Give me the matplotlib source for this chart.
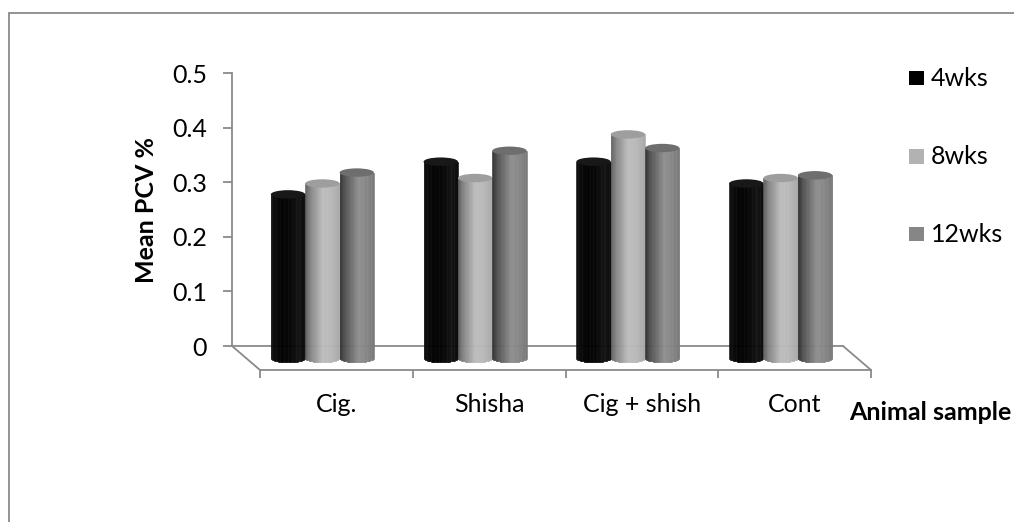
import numpy as np
import matplotlib
matplotlib.use("Agg")
import matplotlib.pyplot as plt
from matplotlib.transforms import ScaledTranslation, IdentityTransform
from matplotlib.patches import Ellipse, Rectangle
from matplotlib.collections import PolyCollection
from matplotlib.lines import Line2D
from matplotlib.markers import TICKDOWN

plt.rcParams['font.family'] = ['Lato', 'DejaVu Sans']

# ---- data -------------------------------------------------------------
categories = ["Cig.", "Shisha", "Cig + shish", "Cont"]
series = ["4wks", "8wks", "12wks"]
wk4 = [0.30, 0.36, 0.36, 0.32]
wk8 = [0.32, 0.33, 0.41, 0.33]
wk12 = [0.34, 0.38, 0.385, 0.335]
yticks = [0, 0.1, 0.2, 0.3, 0.4, 0.5]
ytick_labels = ["0", "0.1", "0.2", "0.3", "0.4", "0.5"]
ylabel = "Mean PCV %"
xlabel = "Animal sample"

values = [wk4, wk8, wk12]

# ---- styling ----------------------------------------------------------
W, H, DPI = 1014, 522, 100
axis_grey = "#8a8a8a"
legend_cols = ["#000000", "#b2b2b2", "#868686"]
cap_cols = ["#181818", "#9e9e9e", "#6e6e6e"]
# horizontal shading of each cylinder: (position, grey level)
shades = [
    ([0.0, 0.3, 0.6, 0.8, 1.0], [0.05, 0.0, 0.02, 0.07, 0.03]),
    ([0.0, 0.15, 0.5, 0.7, 1.0], [0.36, 0.52, 0.74, 0.73, 0.66]),
    ([0.0, 0.15, 0.55, 0.8, 1.0], [0.18, 0.32, 0.56, 0.52, 0.47]),
]
depth_dx, depth_dy = 28, 24      # floor depth in pixels
bar_w = 0.225                    # bar width in category units
cap_half = 4.2                   # half height of the cap ellipse, px
fs = 18

fig = plt.figure(figsize=(W / DPI, H / DPI), dpi=DPI)
ax = fig.add_axes([232 / W, (H - 346) / H, (843 - 232) / W, (346 - 73.3) / H])
ax.set_xlim(0, len(categories))
ax.set_ylim(0, 0.5)
for s in ["top", "right", "bottom"]:
    ax.spines[s].set_visible(False)
ax.spines["left"].set_color(axis_grey)
ax.spines["left"].set_linewidth(1.3)
ax.set_xticks([])
ax.set_yticks(yticks)
ax.set_yticklabels(ytick_labels)
ax.tick_params(axis="y", length=6.5, width=1.3, color=axis_grey,
               pad=11.5, labelsize=fs)
ax.patch.set_visible(False)


def depth_tr(frac):
    return ax.transData + ScaledTranslation(frac * depth_dx / DPI,
                                            -frac * depth_dy / DPI,
                                            fig.dpi_scale_trans)


# ---- floor ------------------------------------------------------------
n = len(categories)
fl_kw = dict(color=axis_grey, lw=1.3, clip_on=False, zorder=1)
ax.plot([0, n], [0, 0], transform=depth_tr(0), **fl_kw)
ax.plot([0, n], [0, 0], transform=depth_tr(1), **fl_kw)
for xe in (0, n):
    p0 = depth_tr(0).transform((xe, 0))
    p1 = depth_tr(1).transform((xe, 0))
    ax.add_line(Line2D([p0[0], p1[0]], [p0[1], p1[1]],
                       transform=IdentityTransform(), **fl_kw))
ax.plot(np.arange(n + 1), np.zeros(n + 1), ls="none", marker=TICKDOWN,
        markersize=5.5, markeredgewidth=1.3, color=axis_grey,
        transform=depth_tr(1), clip_on=False, zorder=1)

# ---- cylinders --------------------------------------------------------
Tb = depth_tr(0.5)
ell = cap_half * 0.5 / (346 - 73.3)      # px -> value units
nstrip = 60
z = 3
for ci in range(n):
    for si, vals in enumerate(values):
        v = vals[ci]
        xc = ci + 0.5 + (si - 1) * bar_w
        x0 = xc - bar_w / 2
        edges = np.linspace(x0, x0 + bar_w, nstrip + 1)
        mids = (edges[:-1] + edges[1:]) / 2
        u = (mids - x0) / bar_w
        lev = np.interp(u, *shades[si])
        bottoms = -ell * np.sqrt(np.clip(1 - (2 * u - 1) ** 2, 0, 1))
        polys = [[(edges[k], bottoms[k]), (edges[k + 1], bottoms[k]),
                  (edges[k + 1], v), (edges[k], v)] for k in range(nstrip)]
        cols = [(g, g, g) for g in lev]
        pc = PolyCollection(polys, facecolors=cols, edgecolors=cols,
                            linewidths=0.4, transform=Tb, clip_on=False,
                            zorder=z)
        ax.add_collection(pc)
        cap = Ellipse((xc, v), bar_w, 2 * ell, facecolor=cap_cols[si],
                      edgecolor="none", transform=Tb, clip_on=False,
                      zorder=z + 0.5)
        ax.add_patch(cap)
        z += 1

# ---- labels -----------------------------------------------------------
for ci, name in enumerate(categories):
    ax.annotate(name, (ci + 0.5, 0), xycoords=depth_tr(1),
                xytext=(0, -34 * 72 / DPI), textcoords="offset points",
                ha="center", va="center", fontsize=fs)

fig.text(147 / W, 1 - 210 / H, ylabel, rotation=90, ha="center",
         va="center", fontsize=fs, fontweight="bold")
fig.text(849 / W, 1 - 412 / H, xlabel, ha="left", va="center",
         fontsize=fs, fontweight="bold")

# ---- legend -----------------------------------------------------------
leg_y = [78, 156.5, 234]
for si, name in enumerate(series):
    fig.add_artist(Rectangle((909 / W, 1 - (leg_y[si] + 7) / H), 14.5 / W,
                             14.5 / H, facecolor=legend_cols[si],
                             edgecolor="none", transform=fig.transFigure))
    fig.text(931 / W, 1 - leg_y[si] / H, name, ha="left", va="center",
             fontsize=fs)

# ---- chart border -----------------------------------------------------
fig.add_artist(Rectangle((9 / W, -0.05), 1.1, 1.05 - 13 / H,
                         facecolor="none", edgecolor=axis_grey, lw=1.3,
                         transform=fig.transFigure))

fig.savefig("out.png", dpi=DPI)
